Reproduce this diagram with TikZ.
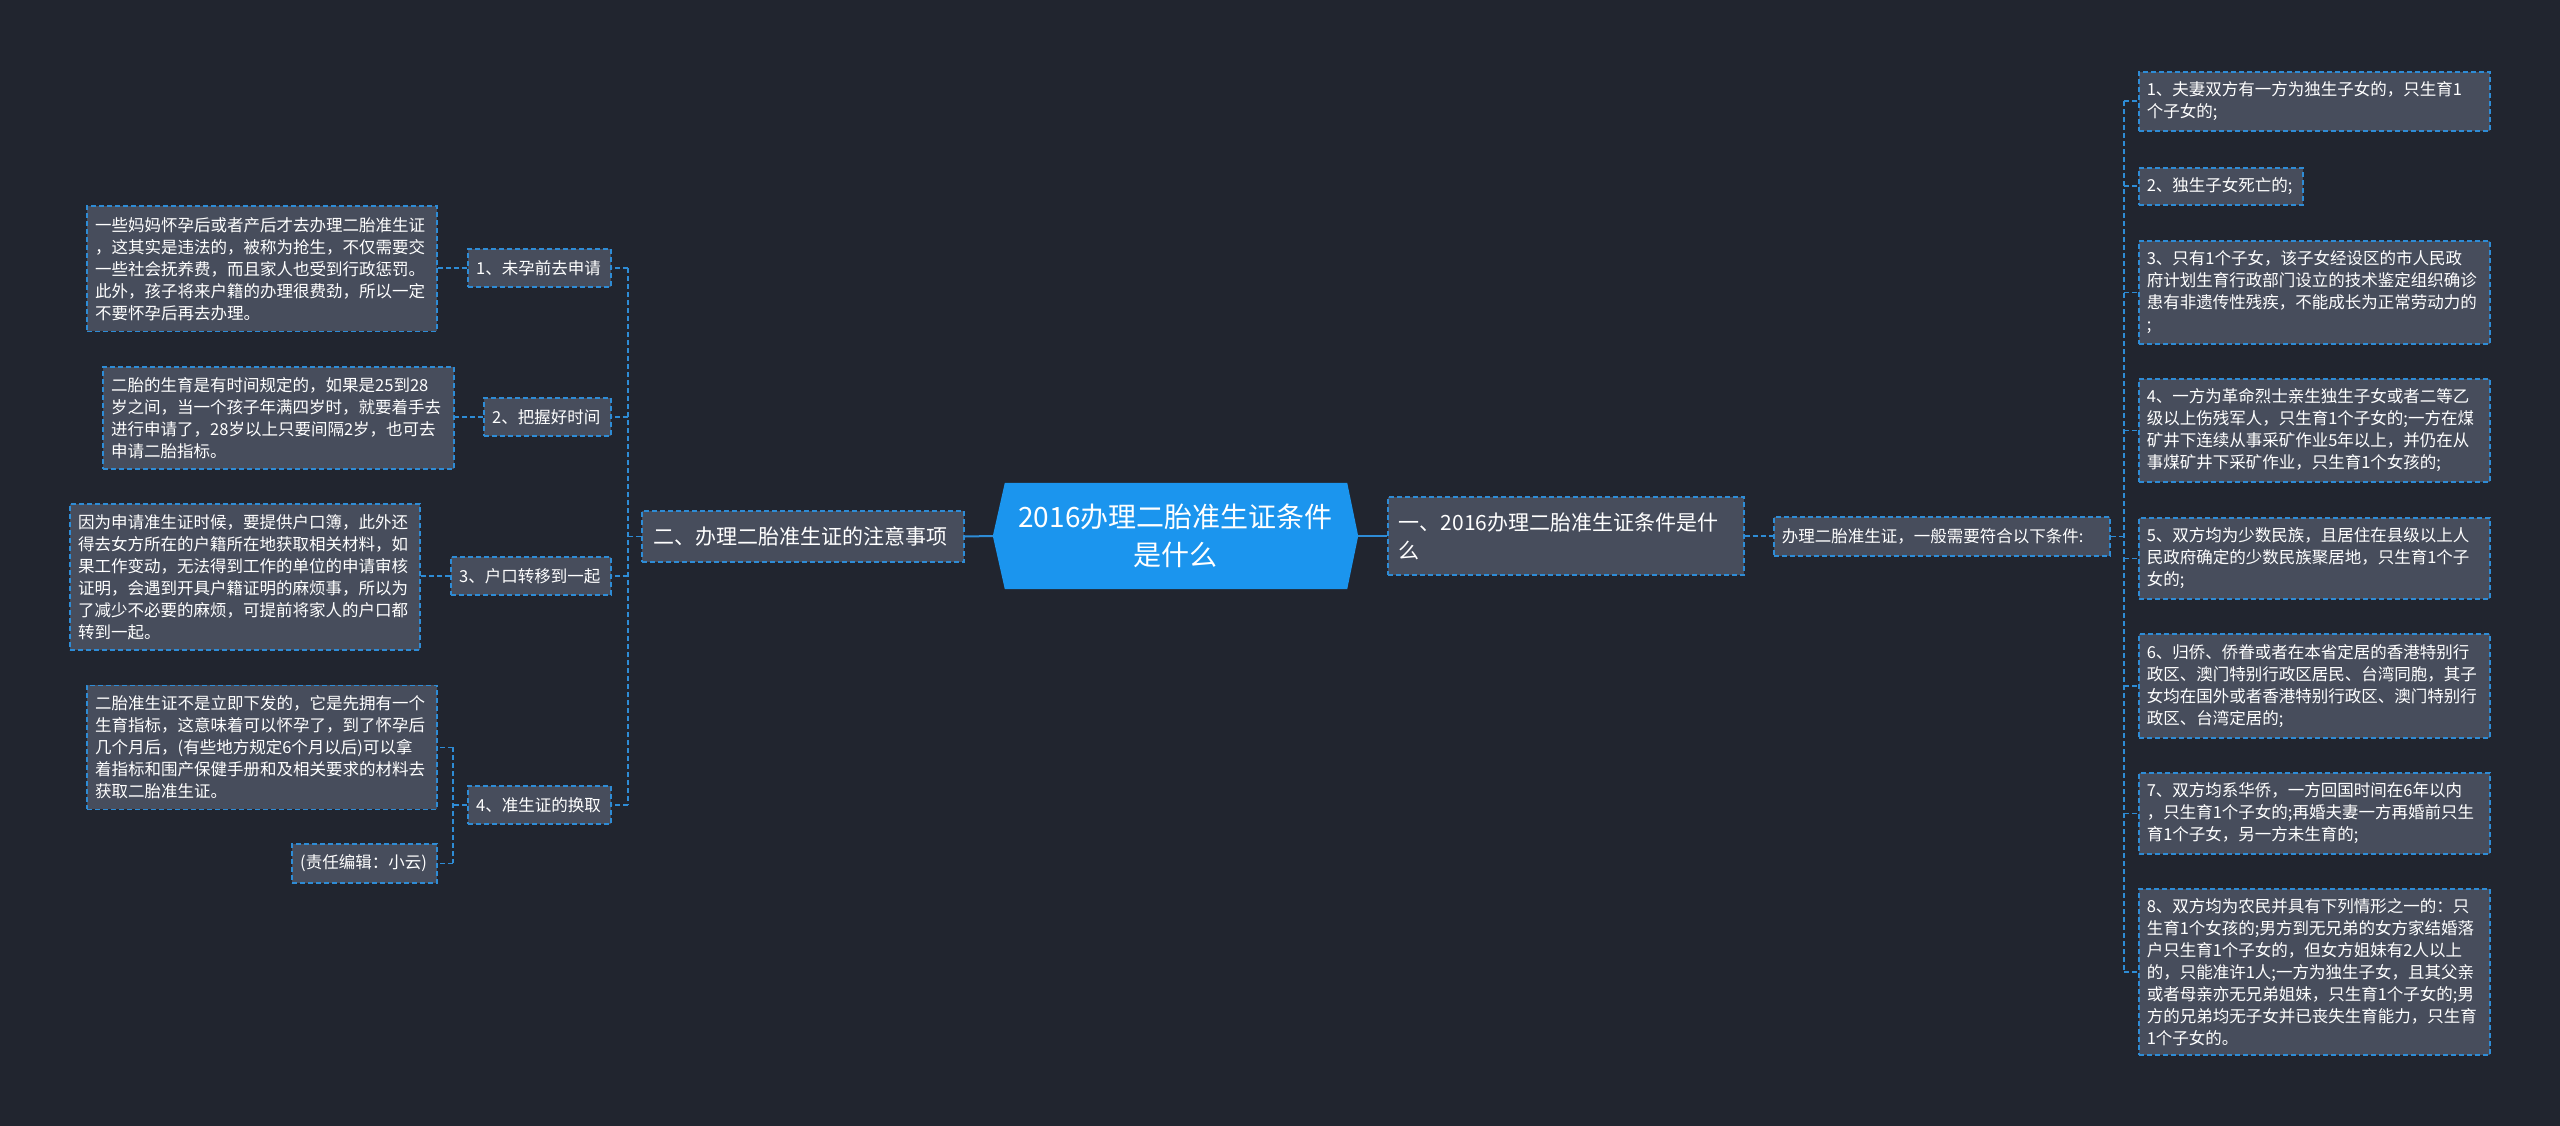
\documentclass[tikz,border=0pt]{standalone}
\usepackage{fontspec}
\setmainfont{Noto Sans CJK SC}
\definecolor{bgc}{HTML}{21252F}
\definecolor{nodefill}{HTML}{474D5C}
\definecolor{lineblue}{HTML}{2E8CD6}
\definecolor{rootblue}{HTML}{1B95EE}
\pgfdeclarelayer{back}
\pgfsetlayers{back,main}
\begin{document}
\begin{tikzpicture}[x=1pt,y=-1pt,
  box/.style={draw=lineblue, line width=1.6pt, dash pattern=on 5pt off 3pt, fill=nodefill, text=white,
    inner xsep=8pt, inner ysep=3pt, align=left, font=\fontsize{16.5}{22}\selectfont},
  bigbox/.style={box, font=\fontsize{21}{28}\selectfont, inner xsep=11pt},
  conn/.style={draw=lineblue, line width=1.6pt, dash pattern=on 5pt off 3pt},
  solidconn/.style={draw=lineblue, line width=2pt},
]
\useasboundingbox (0,0) rectangle (2560,1126);

% root
\node[align=center, text=white, font=\fontsize{28}{38}\selectfont, minimum width=365pt, minimum height=106pt, inner sep=0pt] (root) at (1175.5,536) {2016办理二胎准生证条件\\是什么};
\begin{pgfonlayer}{back}
\fill[bgc] (0,0) rectangle (2560,1126);
\fill[rootblue] (root.west) -- ([xshift=12pt]root.north west) -- ([xshift=-11pt]root.north east) -- (root.east) -- ([xshift=-11pt]root.south east) -- ([xshift=12pt]root.south west) -- cycle;
\end{pgfonlayer}

% level 1
\node[bigbox, anchor=east, text width=300pt, minimum height=51pt] (la) at (965,536.5) {二、办理二胎准生证的注意事项};
\node[bigbox, anchor=west, text width=334pt, minimum height=78pt] (ra) at (1387,536) {一、2016办理二胎准生证条件是什\\么};

% right level 2
\node[box, anchor=west, text width=320pt, minimum height=39pt] (rb) at (1773,536.5) {办理二胎准生证，一般需要符合以下条件:};

% right leaves
\node[box, anchor=north west, text width=335pt, minimum height=59pt] (rl1) at (2138,71) {1、夫妻双方有一方为独生子女的，只生育1\\个子女的;};
\node[box, anchor=north west, text width=148pt, minimum height=37pt] (rl2) at (2138,167) {2、独生子女死亡的;};
\node[box, anchor=north west, text width=335pt, minimum height=103pt] (rl3) at (2138,240) {3、只有1个子女，该子女经设区的市人民政\\府计划生育行政部门设立的技术鉴定组织确诊\\患有非遗传性残疾，不能成长为正常劳动力的\\;};
\node[box, anchor=north west, text width=335pt, minimum height=103pt] (rl4) at (2138,378) {4、一方为革命烈士亲生独生子女或者二等乙\\级以上伤残军人，只生育1个子女的;一方在煤\\矿井下连续从事采矿作业5年以上，并仍在从\\事煤矿井下采矿作业，只生育1个女孩的;};
\node[box, anchor=north west, text width=335pt, minimum height=81pt] (rl5) at (2138,517) {5、双方均为少数民族，且居住在县级以上人\\民政府确定的少数民族聚居地，只生育1个子\\女的;};
\node[box, anchor=north west, text width=335pt, minimum height=104pt] (rl6) at (2138,633) {6、归侨、侨眷或者在本省定居的香港特别行\\政区、澳门特别行政区居民、台湾同胞，其子\\女均在国外或者香港特别行政区、澳门特别行\\政区、台湾定居的;};
\node[box, anchor=north west, text width=335pt, minimum height=81pt] (rl7) at (2138,772) {7、双方均系华侨，一方回国时间在6年以内\\，只生育1个子女的;再婚夫妻一方再婚前只生\\育1个子女，另一方未生育的;};
\node[box, anchor=north west, text width=335pt, minimum height=166pt] (rl8) at (2138,888) {8、双方均为农民并具有下列情形之一的：只\\生育1个女孩的;男方到无兄弟的女方家结婚落\\户只生育1个子女的，但女方姐妹有2人以上\\的，只能准许1人;一方为独生子女，且其父亲\\或者母亲亦无兄弟姐妹，只生育1个子女的;男\\方的兄弟均无子女并已丧失生育能力，只生育\\1个子女的。};

% left level 2
\node[box, anchor=east, text width=127pt, minimum height=38pt] (ll1) at (612,268) {1、未孕前去申请};
\node[box, anchor=east, text width=111pt, minimum height=38pt] (ll2) at (612,417) {2、把握好时间};
\node[box, anchor=east, text width=144pt, minimum height=38pt] (ll3) at (612,576) {3、户口转移到一起};
\node[box, anchor=east, text width=127pt, minimum height=38pt] (ll4) at (612,805) {4、准生证的换取};

% left leaves
\node[box, anchor=north east, text width=334pt, minimum height=125pt] (lA) at (438,205.5) {一些妈妈怀孕后或者产后才去办理二胎准生证\\，这其实是违法的，被称为抢生，不仅需要交\\一些社会抚养费，而且家人也受到行政惩罚。\\此外，孩子将来户籍的办理很费劲，所以一定\\不要怀孕后再去办理。};
\node[box, anchor=north east, text width=335pt, minimum height=102pt] (lB) at (455,366) {二胎的生育是有时间规定的，如果是25到28\\岁之间，当一个孩子年满四岁时，就要着手去\\进行申请了，28岁以上只要间隔2岁，也可去\\申请二胎指标。};
\node[box, anchor=north east, text width=334pt, minimum height=146pt] (lC) at (421,503) {因为申请准生证时候，要提供户口簿，此外还\\得去女方所在的户籍所在地获取相关材料，如\\果工作变动，无法得到工作的单位的申请审核\\证明，会遇到开具户籍证明的麻烦事，所以为\\了减少不必要的麻烦，可提前将家人的户口都\\转到一起。};
\node[box, anchor=north east, text width=334pt, minimum height=124pt] (lD) at (438,684.5) {二胎准生证不是立即下发的，它是先拥有一个\\生育指标，这意味着可以怀孕了，到了怀孕后\\几个月后，(有些地方规定6个月以后)可以拿\\着指标和围产保健手册和及相关要求的材料去\\获取二胎准生证。};
\node[box, anchor=north east, text width=129pt, minimum height=39pt] (lE) at (438,843) {(责任编辑：小云)};

% connectors
\draw[solidconn] (root.west) -- (la.east);
\draw[solidconn] (root.east) -- (ra.west);
\draw[conn] (ra.east) -- (ra.east -| rb.west);

\coordinate (busR) at (2124,536);
\draw[conn] (rb.east) -- (rb.east -| busR);
\draw[conn] (busR |- rl1.west) -- (busR |- rl8.west);
\foreach \i in {1,...,8} \draw[conn] (busR |- rl\i.west) -- (rl\i.west);

\coordinate (busL) at (628,536);
\draw[conn] (la.west) -- (la.west -| busL);
\draw[conn] (busL |- ll1.east) -- (busL |- ll4.east);
\foreach \i in {1,...,4} \draw[conn] (busL |- ll\i.east) -- (ll\i.east);

\draw[conn] (ll1.west) -- (ll1.west -| lA.east);
\draw[conn] (ll2.west) -- (ll2.west -| lB.east);
\draw[conn] (ll3.west) -- (ll3.west -| lC.east);

\coordinate (busD) at (453,805);
\draw[conn] (ll4.west) -- (ll4.west -| busD);
\draw[conn] (busD |- lD.east) -- (busD |- lE.east);
\draw[conn] (busD |- lD.east) -- (lD.east);
\draw[conn] (busD |- lE.east) -- (lE.east);
\end{tikzpicture}
\end{document}
